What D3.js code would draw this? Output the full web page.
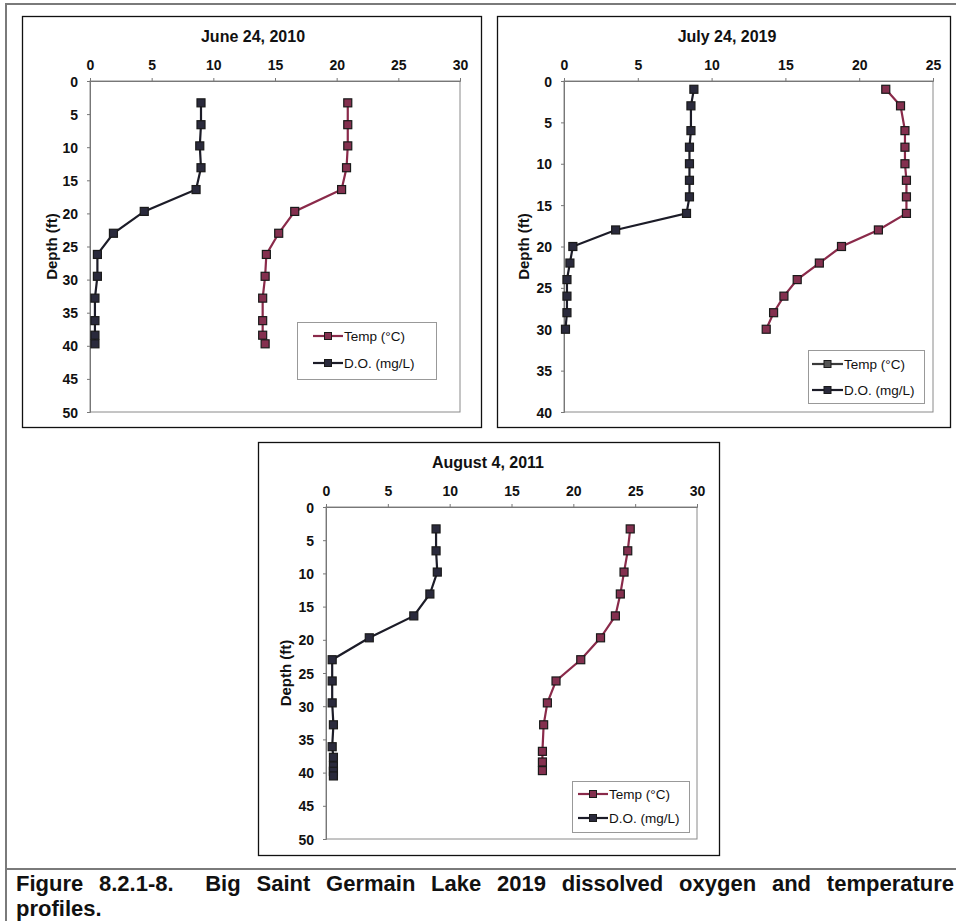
<!DOCTYPE html>
<html><head><meta charset="utf-8">
<script src="https://cdn.jsdelivr.net/npm/d3@7"></script>
<style>html,body{margin:0;padding:0;background:#fff;}svg{display:block;}</style>
</head><body>
<svg id="fig" width="956" height="921"></svg>
<script>
// ---- Data ----
const june2010Depth = [3.3, 6.6, 9.8, 13.1, 16.4, 19.7, 23.0, 26.2, 29.5, 32.8, 36.2, 38.4, 39.7];
const june2010Temp  = [20.9, 20.9, 20.9, 20.8, 20.4, 16.6, 15.3, 14.3, 14.2, 14.0, 14.0, 14.0, 14.2];
const june2010DO    = [9.0, 9.0, 8.9, 9.0, 8.6, 4.4, 1.9, 0.6, 0.6, 0.4, 0.4, 0.4, 0.4];

const july2019Depth = [1, 3, 6, 8, 10, 12, 14, 16, 18, 20, 22, 24, 26, 28, 30];
const july2019Temp  = [21.8, 22.8, 23.1, 23.1, 23.1, 23.2, 23.2, 23.2, 21.3, 18.8, 17.3, 15.8, 14.9, 14.2, 13.7];
const july2019DO    = [8.8, 8.6, 8.6, 8.5, 8.5, 8.5, 8.5, 8.3, 3.5, 0.6, 0.4, 0.2, 0.2, 0.2, 0.1];

const aug2011TempDepth = [3.3, 6.6, 9.8, 13.1, 16.4, 19.7, 23.0, 26.2, 29.5, 32.8, 36.8, 38.4, 39.7];
const aug2011Temp      = [24.6, 24.4, 24.1, 23.8, 23.4, 22.2, 20.6, 18.6, 17.9, 17.6, 17.5, 17.5, 17.5];
const aug2011DODepth   = [3.3, 6.6, 9.8, 13.1, 16.4, 19.7, 23.0, 26.2, 29.5, 32.8, 36.1, 37.7, 39.0, 39.8, 40.5];
const aug2011DO        = [8.9, 8.9, 9.0, 8.4, 7.1, 3.5, 0.5, 0.5, 0.5, 0.6, 0.5, 0.6, 0.6, 0.6, 0.6];

const titles = ["June 24, 2010", "July 24, 2019", "August 4, 2011"];
const xTicksA = [0, 5, 10, 15, 20, 25, 30];
const xTicksB = [0, 5, 10, 15, 20, 25];
const yTicksA = [0, 5, 10, 15, 20, 25, 30, 35, 40, 45, 50];
const yTicksB = [0, 5, 10, 15, 20, 25, 30, 35, 40];
const legendLabels = ["Temp (\u00b0C)", "D.O. (mg/L)"];
const captionLine1 = "Figure 8.2.1-8.  Big Saint Germain Lake 2019 dissolved oxygen and temperature";
const captionLine2 = "profiles.";

// ---- Layout ----
const svg = d3.select("#fig");
const FONT = "'Liberation Sans', Arial, sans-serif";
const TEMP_COL = "#8a2a4a", TEMP_FILL = "#84304f";
const DO_COL = "#1c1c28", DO_FILL = "#2a2a3c";

const panels = [
  { box: [22, 16, 481, 427], plot: [90, 81, 460, 412], xMax: 30, yMax: 50, xTicks: xTicksA, yTicks: yTicksA,
    title: titles[0], titleX: 253, labelX: 52,
    temp: { d: june2010Depth, v: june2010Temp }, dox: { d: june2010Depth, v: june2010DO },
    legend: { box: [297, 322, 436, 379], l1: 313, l2: 343, y1: 336, y2: 363, tempGray: false } },
  { box: [497, 16, 950, 427], plot: [564, 81, 933, 412], xMax: 25, yMax: 40, xTicks: xTicksB, yTicks: yTicksB,
    title: titles[1], titleX: 727, labelX: 524,
    temp: { d: july2019Depth, v: july2019Temp }, dox: { d: july2019Depth, v: july2019DO },
    legend: { box: [808, 350, 924, 403], l1: 812, l2: 843, y1: 364, y2: 390, tempGray: true } },
  { box: [258, 442, 719, 855], plot: [326, 507, 697, 839], xMax: 30, yMax: 50, xTicks: xTicksA, yTicks: yTicksA,
    title: titles[2], titleX: 488, labelX: 286,
    temp: { d: aug2011TempDepth, v: aug2011Temp }, dox: { d: aug2011DODepth, v: aug2011DO },
    legend: { box: [572, 781, 689, 832], l1: 578, l2: 608, y1: 794, y2: 818, tempGray: false } }
];

// outer frame lines
svg.append("line").attr("x1", 6).attr("x2", 956).attr("y1", 4).attr("y2", 4).attr("stroke", "#7a7a7a").attr("stroke-width", 2);
svg.append("line").attr("x1", 6).attr("x2", 6).attr("y1", 3).attr("y2", 921).attr("stroke", "#7a7a7a").attr("stroke-width", 2);
svg.append("line").attr("x1", 6).attr("x2", 956).attr("y1", 869).attr("y2", 869).attr("stroke", "#7a7a7a").attr("stroke-width", 2);

panels.forEach(p => {
  const g = svg.append("g");
  const [bx0, by0, bx1, by1] = p.box;
  g.append("rect").attr("x", bx0 + 0.5).attr("y", by0 + 0.5).attr("width", bx1 - bx0).attr("height", by1 - by0)
    .attr("fill", "#fff").attr("stroke", "#111").attr("stroke-width", 1.3);

  const [px0, py0, px1, py1] = p.plot;
  const x = d3.scaleLinear().domain([0, p.xMax]).range([px0, px1]);
  const y = d3.scaleLinear().domain([0, p.yMax]).range([py0, py1]);

  // plot area border
  g.append("rect").attr("x", px0).attr("y", py0).attr("width", px1 - px0).attr("height", py1 - py0)
    .attr("fill", "none").attr("stroke", "#8a8a8a").attr("stroke-width", 1);

  // axes
  const xAxis = d3.axisTop(x).tickValues(p.xTicks).tickSize(3).tickPadding(8);
  const gx = g.append("g").attr("transform", `translate(0,${py0})`).call(xAxis);
  const yAxis = d3.axisLeft(y).tickValues(p.yTicks).tickSize(3).tickPadding(9);
  const gy = g.append("g").attr("transform", `translate(${px0},0)`).call(yAxis);
  [gx, gy].forEach(a => {
    a.select(".domain").attr("stroke", "#777");
    a.selectAll(".tick line").attr("stroke", "#777");
    a.selectAll(".tick text").attr("font-family", FONT).attr("font-weight", "bold").attr("font-size", 14).attr("fill", "#111");
  });
  gy.selectAll(".tick text").attr("dy", "0.36em");

  // title
  g.append("text").attr("x", p.titleX).attr("y", by0 + 26).attr("text-anchor", "middle")
    .attr("font-family", FONT).attr("font-weight", "bold").attr("font-size", 16).attr("fill", "#111").text(p.title);

  // y label
  const ly = (py0 + py1) / 2;
  g.append("text").attr("transform", `translate(${p.labelX + 5},${ly}) rotate(-90)`).attr("text-anchor", "middle")
    .attr("font-family", FONT).attr("font-weight", "bold").attr("font-size", 15).attr("fill", "#111").text("Depth (ft)");

  // series
  const line = d3.line().x(d => x(d[1])).y(d => y(d[0]));
  const series = [
    { s: p.temp, col: TEMP_COL, fill: TEMP_FILL },
    { s: p.dox, col: DO_COL, fill: DO_FILL }
  ];
  series.forEach(ser => {
    const pts = ser.s.d.map((dd, i) => [dd, ser.s.v[i]]);
    g.append("path").datum(pts).attr("d", line).attr("fill", "none").attr("stroke", ser.col).attr("stroke-width", 2.2);
    g.selectAll(null).data(pts).enter().append("rect")
      .attr("x", d => x(d[1]) - 4).attr("y", d => y(d[0]) - 4).attr("width", 8).attr("height", 8)
      .attr("fill", ser.fill).attr("stroke", "#1a1a1a").attr("stroke-width", 1.2);
  });

  // legend
  const L = p.legend;
  g.append("rect").attr("x", L.box[0] + 0.5).attr("y", L.box[1] + 0.5).attr("width", L.box[2] - L.box[0]).attr("height", L.box[3] - L.box[1])
    .attr("fill", "#fff").attr("stroke", "#999").attr("stroke-width", 1);
  const entries = [
    { y: L.y1, col: L.tempGray ? "#3a3a3a" : TEMP_COL, fill: L.tempGray ? "#555" : TEMP_FILL, label: legendLabels[0] },
    { y: L.y2, col: DO_COL, fill: DO_FILL, label: legendLabels[1] }
  ];
  entries.forEach(e => {
    g.append("line").attr("x1", L.l1).attr("x2", L.l2).attr("y1", e.y).attr("y2", e.y).attr("stroke", e.col).attr("stroke-width", 2.2);
    const mx = (L.l1 + L.l2) / 2;
    g.append("rect").attr("x", mx - 3.5).attr("y", e.y - 3.5).attr("width", 7).attr("height", 7)
      .attr("fill", e.fill).attr("stroke", "#1a1a1a").attr("stroke-width", 1);
    g.append("text").attr("x", L.l2 + 1).attr("y", e.y).attr("dy", "0.35em")
      .attr("font-family", FONT).attr("font-size", 13.5).attr("fill", "#111").text(e.label);
  });
});

// caption, justified line 1
const capG = svg.append("g").attr("font-family", FONT).attr("font-weight", "bold").attr("font-size", 22).attr("fill", "#111");
(function justify(str, x0, x1, yb) {
  const tokens = str.split(/( +)/);
  const words = [], gaps = [];
  tokens.forEach(t => { if (/^ +$/.test(t)) gaps.push(t.length); else if (t.length) words.push(t); });
  const els = words.map(w => capG.append("text").attr("y", yb).text(w));
  const widths = els.map(e => e.node().getComputedTextLength());
  const totalW = d3.sum(widths);
  const totalGapUnits = d3.sum(gaps);
  const unit = (x1 - x0 - totalW) / totalGapUnits;
  let cx = x0;
  els.forEach((e, i) => { e.attr("x", cx); cx += widths[i] + (i < gaps.length ? gaps[i] * unit : 0); });
})(captionLine1, 16, 954, 891);
capG.append("text").attr("x", 16).attr("y", 916).text(captionLine2);
</script>
</body></html>
